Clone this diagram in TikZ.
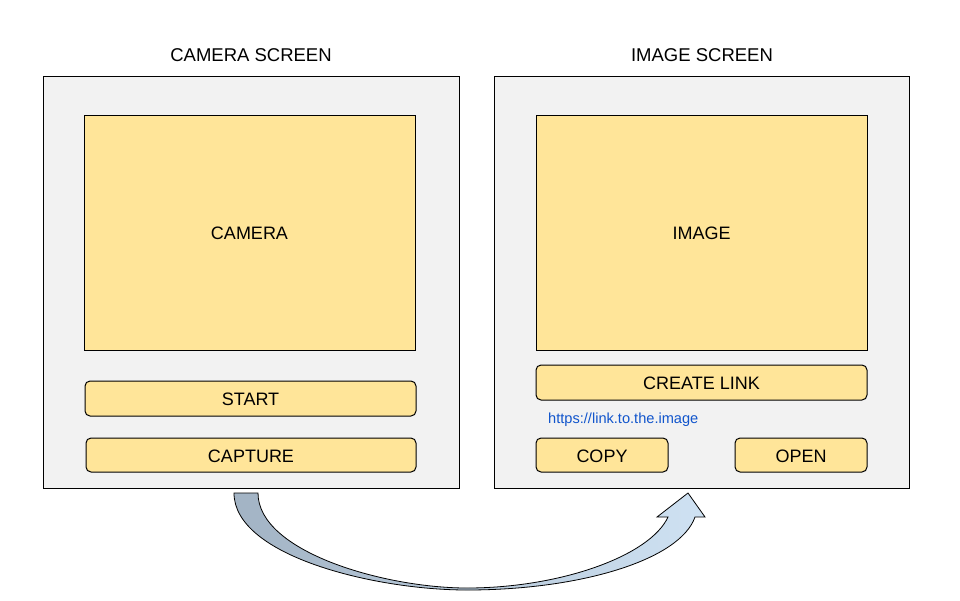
\documentclass[tikz,border=0pt]{standalone}
\usepackage{fontspec}
\setmainfont{Liberation Sans}
\definecolor{panelgray}{HTML}{F2F2F2}
\definecolor{paneyellow}{HTML}{FFE599}
\definecolor{linkblue}{HTML}{1155CC}
\definecolor{flowdark}{HTML}{A2B3C4}
\definecolor{flowlight}{HTML}{CFE2F3}
\begin{document}
\begin{tikzpicture}[x=1pt,y=-1pt,
  panel/.style={draw=black, line width=1pt, fill=panelgray},
  viewbox/.style={draw=black, line width=1pt, fill=paneyellow},
  btn/.style={draw=black, line width=1pt, fill=paneyellow, rounded corners=5pt},
  label/.style={font=\fontsize{18}{20}\selectfont},
  title/.style={font=\fontsize{18.5}{20}\selectfont}]
\useasboundingbox (0,0) rectangle (960,600);

% screens
\draw[panel] (43,76) rectangle (459,488);
\draw[panel] (494,76) rectangle (909,488);
\node[title] (camtitle) at (251,55) {CAMERA SCREEN};
\node[title] (imgtitle) at (702,55) {IMAGE SCREEN};

% camera screen content
\draw[viewbox] (84,115) rectangle (415,350);
\node[label] (camera) at (249.5,233.5) {CAMERA};
\draw[btn] (85,381) rectangle (416,416);
\node[label] (start) at (250.5,399.5) {START};
\draw[btn] (86,438) rectangle (416,472);
\node[label] (capture) at (251,456.5) {CAPTURE};

% image screen content
\draw[viewbox] (536,115) rectangle (867,350);
\node[label] (image) at (701.5,233.5) {IMAGE};
\draw[btn] (536,365) rectangle (867,400);
\node[label] (createlink) at (701.5,383.5) {CREATE LINK};
\node[font=\fontsize{14.6}{16}\selectfont, text=linkblue, anchor=west, inner sep=0pt] (link) at (548,419.5) {https://link.to.the.image};
\draw[btn] (536,438) rectangle (668,472);
\node[label] (copy) at (602,456.5) {COPY};
\draw[btn] (735,438) rectangle (867,472);
\node[label] (open) at (801,456.5) {OPEN};

% curved transition arrow
\draw[line width=0.8pt, left color=flowdark, right color=flowlight, shading angle=90]
  (234,493) .. controls (234,556) and (375,590) .. (467,590)
  .. controls (580,590) and (680,560) .. (695,517)
  -- (705,517) -- (688,493) -- (657,517) -- (668,517)
  .. controls (650,556) and (560,588) .. (467,588)
  .. controls (385,588) and (258,552) .. (258,493) -- cycle;
\end{tikzpicture}
\end{document}
